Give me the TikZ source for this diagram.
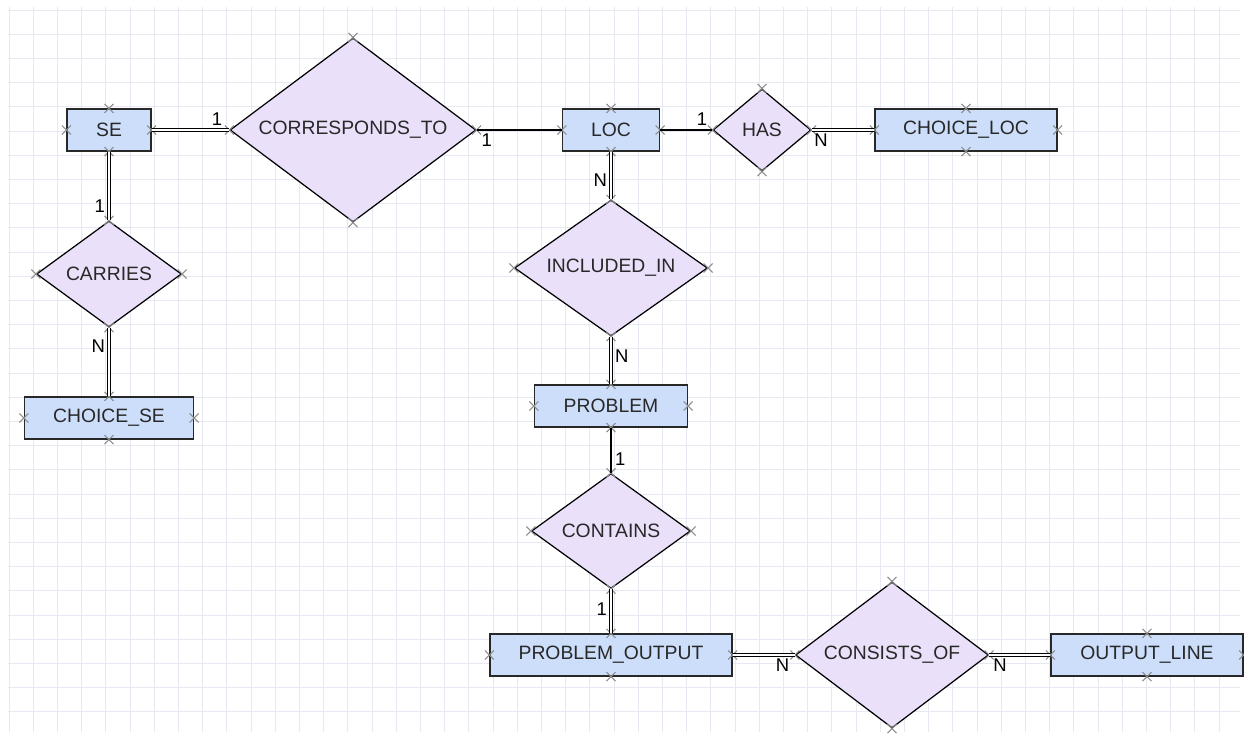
\documentclass[tikz,border=0pt]{standalone}
\usepackage{fontspec}
\setmainfont{Liberation Sans}
\usetikzlibrary{shapes.geometric}
\definecolor{entityblue}{RGB}{204,222,250}
\definecolor{relviolet}{RGB}{234,224,250}
\definecolor{gridgray}{RGB}{232,232,243}
\definecolor{inkgray}{RGB}{40,40,40}
% text of a relationship, kept from growing the diamond
\newcommand{\reltext}[1]{\makebox[0pt][c]{#1}}
\begin{document}
\begin{tikzpicture}[
        font=\fontsize{11}{13}\selectfont, text=inkgray,
        entity/.style={rectangle, draw=inkgray, line width=0.7pt, fill=entityblue, minimum height=0.84cm, inner sep=0pt},
        relation/.style={diamond, draw=black, line width=0.7pt, fill=relviolet, inner sep=0pt},
        single/.style={line width=0.6pt, black},
        dbl/.style={double, double distance=1.5pt, line width=0.6pt, black},
        card/.style={inner sep=2pt, font=\fontsize{10.5}{12}\selectfont},
        xmark/.style={gray!90, line width=0.6pt},
        gridline/.style={gridgray, line width=0.5pt}
    ]
        \useasboundingbox (0,0) rectangle (24.88,14.68);

        % Grid of the drawing sheet
        \begin{scope}
            \clip (0.16,0.06) rectangle (24.8,14.52);
            \draw[gridline, shift={(0.18,0.444)}] (-1,-1) grid[step=0.484] (26,15);
        \end{scope}

        % Entities
        \node[entity, minimum width=1.68cm] (se) at (2.18,12.08) {SE};
        \node[entity, minimum width=1.94cm] (loc) at (12.22,12.08) {LOC};
        \node[entity, minimum width=3.64cm] (choiceloc) at (19.32,12.08) {CHOICE\_LOC};
        \node[entity, minimum width=3.38cm] (choicese) at (2.18,6.32) {CHOICE\_SE};
        \node[entity, minimum width=3.06cm] (problem) at (12.22,6.56) {PROBLEM};
        \node[entity, minimum width=4.84cm] (pout) at (12.22,1.58) {PROBLEM\_OUTPUT};
        \node[entity, minimum width=3.84cm] (oline) at (22.94,1.58) {OUTPUT\_LINE};

        % Relationships
        \node[relation, minimum width=4.92cm, minimum height=3.68cm] (corr) at (7.06,12.08) {\reltext{CORRESPONDS\_TO}};
        \node[relation, minimum width=1.96cm, minimum height=1.64cm] (has) at (15.24,12.08) {\reltext{HAS}};
        \node[relation, minimum width=2.9cm, minimum height=2.12cm] (carries) at (2.18,9.2) {\reltext{CARRIES}};
        \node[relation, minimum width=3.86cm, minimum height=2.72cm] (included) at (12.22,9.32) {\reltext{INCLUDED\_IN}};
        \node[relation, minimum width=3.18cm, minimum height=2.3cm] (contains) at (12.22,4.06) {\reltext{CONTAINS}};
        \node[relation, minimum width=3.86cm, minimum height=2.92cm] (consists) at (17.84,1.58) {\reltext{CONSISTS\_OF}};

        % Connection points
        \foreach \n in {se,loc,choiceloc,choicese,problem,pout,oline,corr,has,carries,included,contains,consists}
            \foreach \a in {north,south,east,west}
                \draw[xmark] (\n.\a) ++(-0.09,-0.09) -- ++(0.18,0.18) ++(-0.18,0) -- ++(0.18,-0.18);

        % Connections
        \draw[dbl] (se) -- node[card, pos=0.84, above] (c1) {1} (corr);
        \draw[single] (corr) -- node[card, pos=0.12, below] (c2) {1} (loc);
        \draw[single] (loc) -- node[card, pos=0.8, above] (c3) {1} (has);
        \draw[dbl] (has) -- node[card, pos=0.15, below] (c4) {N} (choiceloc);
        \draw[dbl] (se) -- node[card, pos=0.8, left] (c5) {1} (carries);
        \draw[dbl] (carries) -- node[card, pos=0.27, left] (c6) {N} (choicese);
        \draw[dbl] (loc) -- node[card, pos=0.6, left] (c7) {N} (included);
        \draw[dbl] (included) -- node[card, pos=0.4, right] (c8) {N} (problem);
        \draw[single] (problem) -- node[card, pos=0.7, right] (c9) {1} (contains);
        \draw[dbl] (contains) -- node[card, pos=0.45, left] (c10) {1} (pout);
        \draw[dbl] (pout) -- node[card, pos=0.8, below] (c11) {N} (consists);
        \draw[dbl] (consists) -- node[card, pos=0.18, below] (c12) {N} (oline);
    \end{tikzpicture}
\end{document}
